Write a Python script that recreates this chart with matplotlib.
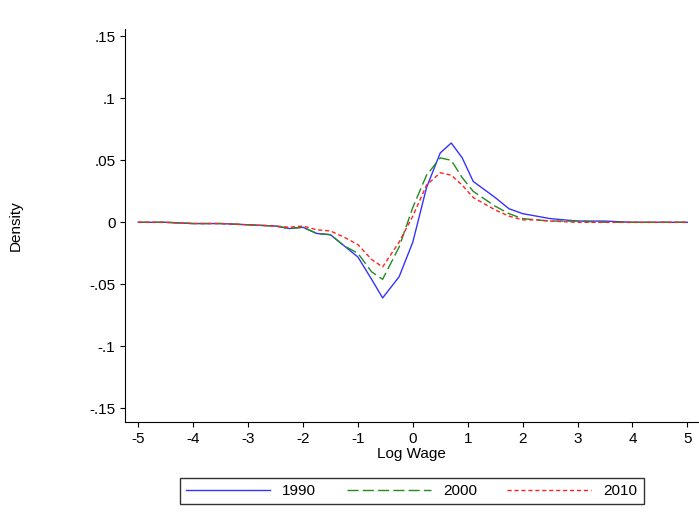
import matplotlib.pyplot as plt

x = [-5, -4.5, -4, -3.5, -3, -2.5, -2.25, -2, -1.75, -1.5, -1.25, -1, -0.75, -0.55,
     -0.25, 0, 0.25, 0.5, 0.7, 0.9, 1.1, 1.5, 1.75, 2, 2.25, 2.5, 3, 3.5, 4, 4.5, 5]
d1990 = [0, 0, -0.001, -0.001, -0.002, -0.003, -0.005, -0.004, -0.009, -0.010, -0.019, -0.028,
         -0.046, -0.061, -0.044, -0.016, 0.028, 0.056, 0.064, 0.052, 0.033, 0.020, 0.011, 0.007,
         0.005, 0.003, 0.001, 0.001, 0, 0, 0]
d2000 = [0, 0, -0.001, -0.001, -0.002, -0.003, -0.005, -0.004, -0.009, -0.010, -0.019, -0.025,
         -0.040, -0.046, -0.020, 0.012, 0.038, 0.052, 0.050, 0.036, 0.025, 0.013, 0.007, 0.003,
         0.002, 0.001, 0.001, 0, 0, 0, 0]
d2010 = [0, 0, -0.001, -0.001, -0.002, -0.003, -0.004, -0.003, -0.006, -0.007, -0.012, -0.018,
         -0.030, -0.036, -0.016, 0.005, 0.030, 0.040, 0.038, 0.030, 0.020, 0.010, 0.005, 0.002,
         0.002, 0.001, 0, 0, 0, 0, 0]
yticks = [-0.15, -0.1, -0.05, 0, 0.05, 0.1, 0.15]
ylabels = ["-.15", "-.1", "-.05", "0", ".05", ".1", ".15"]

plt.rcParams["font.family"] = ["Liberation Sans", "DejaVu Sans"]
plt.rcParams["axes.unicode_minus"] = False
fig = plt.figure(figsize=(6.99, 5.17), dpi=100)
ax = fig.add_axes([0.179, 0.184, 0.82, 0.76])
ax.plot(x, d1990, color="#3333ff", lw=1.0, label="1990")
ax.plot(x, d2000, color="#228b22", lw=1.0, dashes=(8, 3), label="2000")
ax.plot(x, d2010, color="#ff2222", lw=1.0, dashes=(3, 2), label="2010")
ax.set_xlim(-5.24, 5.2)
ax.set_ylim(-0.161, 0.156)
ax.set_xticks(range(-5, 6))
ax.set_yticks(yticks)
ax.set_yticklabels(ylabels)
ax.tick_params(labelsize=11)
ax.spines["top"].set_visible(False)
ax.spines["right"].set_visible(False)
ax.set_xlabel("Log Wage", fontsize=11, labelpad=1)
ax.set_ylabel("Density", fontsize=11, labelpad=48)
fig.legend(loc="lower center", bbox_to_anchor=(0.589, 0.01), ncol=3, frameon=True,
           fancybox=False, edgecolor="black", handlelength=5.5, columnspacing=2.0,
           fontsize=11)
fig.savefig("out.png", dpi=100)
